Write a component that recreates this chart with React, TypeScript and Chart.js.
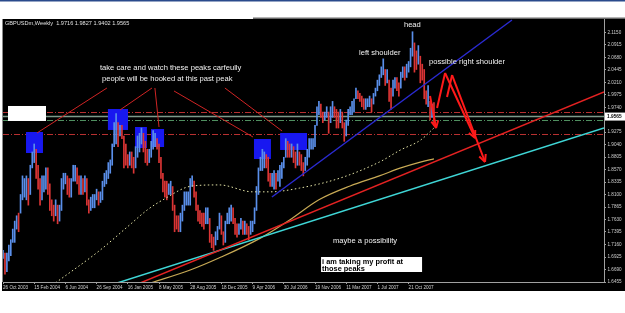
import { useEffect, useRef } from "react";
import { Chart, registerables } from "chart.js";

Chart.register(...registerables);

// ---- Weekly GBPUSD bars (week 0 = 26 Oct 2003) ----
const WEEK_LOW = [
  // 2003
  1.690, 1.660, 1.665, 1.685, 1.695, 1.720, 1.720, 1.745, 1.740, 1.775,
  // 2004
  1.800, 1.805, 1.800, 1.790, 1.810, 1.860, 1.870, 1.840, 1.820, 1.790,
  1.800, 1.815, 1.820, 1.810, 1.780, 1.770, 1.760, 1.770, 1.755, 1.760,
  1.780, 1.820, 1.830, 1.810, 1.805, 1.805, 1.835, 1.835, 1.830, 1.810,
  1.810, 1.810, 1.815, 1.790, 1.775, 1.780, 1.785, 1.785, 1.800, 1.790,
  1.795, 1.800, 1.825, 1.830, 1.840, 1.850, 1.865, 1.900, 1.905, 1.900,
  1.920, 1.915,
  // 2005
  1.860, 1.865, 1.860, 1.865, 1.860, 1.850, 1.860, 1.880, 1.890, 1.905,
  1.890, 1.870, 1.865, 1.870, 1.880, 1.895, 1.900, 1.895, 1.870, 1.840,
  1.815, 1.805, 1.800, 1.810, 1.810, 1.780, 1.740, 1.745, 1.740, 1.740,
  1.760, 1.780, 1.790, 1.790, 1.790, 1.825, 1.805, 1.780, 1.760, 1.755,
  1.750, 1.745, 1.755, 1.755, 1.720, 1.710, 1.705, 1.715, 1.725, 1.745,
  1.735, 1.715,
  // 2006
  1.720, 1.755, 1.755, 1.760, 1.755, 1.735, 1.730, 1.735, 1.745, 1.735,
  1.735, 1.735, 1.725, 1.735, 1.740, 1.755, 1.780, 1.810, 1.855, 1.855,
  1.860, 1.860, 1.835, 1.825, 1.825, 1.820, 1.820, 1.835, 1.825, 1.840,
  1.860, 1.880, 1.880, 1.880, 1.880, 1.870, 1.860, 1.865, 1.865, 1.855,
  1.845, 1.855, 1.865, 1.880, 1.895, 1.895, 1.900, 1.940, 1.960, 1.955,
  1.945, 1.950, 1.955,
  // 2007
  1.925, 1.945, 1.955, 1.955, 1.935, 1.935, 1.945, 1.935, 1.910, 1.920,
  1.940, 1.960, 1.960, 1.965, 1.990, 1.990, 1.985, 1.975, 1.970, 1.970,
  1.975, 1.975, 1.965, 1.980, 1.995, 2.005, 2.015, 2.030, 2.035, 2.015,
  2.020, 1.985, 1.970, 1.995, 2.010, 2.005, 1.995, 2.010, 2.030, 2.025,
  2.030, 2.040, 2.050, 2.070, 2.040, 2.045, 2.055, 2.020, 2.025, 1.990,
  1.980, 1.975,
  // 2008
  1.950, 1.955, 1.9402,
];
const WEEK_HIGH = [
  // 2003
  1.705, 1.700, 1.700, 1.715, 1.725, 1.745, 1.760, 1.770, 1.775, 1.810,
  // 2004
  1.845, 1.840, 1.845, 1.840, 1.865, 1.890, 1.905, 1.895, 1.865, 1.840,
  1.845, 1.845, 1.860, 1.860, 1.830, 1.800, 1.790, 1.800, 1.790, 1.790,
  1.840, 1.850, 1.850, 1.845, 1.840, 1.840, 1.865, 1.865, 1.860, 1.845,
  1.845, 1.840, 1.845, 1.840, 1.800, 1.805, 1.810, 1.810, 1.820, 1.815,
  1.815, 1.835, 1.850, 1.855, 1.870, 1.875, 1.905, 1.945, 1.962, 1.945,
  1.940, 1.940,
  // 2005
  1.920, 1.905, 1.885, 1.890, 1.890, 1.880, 1.900, 1.920, 1.925, 1.935,
  1.925, 1.910, 1.895, 1.895, 1.910, 1.930, 1.925, 1.915, 1.905, 1.880,
  1.850, 1.835, 1.835, 1.830, 1.835, 1.825, 1.790, 1.770, 1.770, 1.775,
  1.790, 1.815, 1.815, 1.815, 1.840, 1.845, 1.835, 1.815, 1.790, 1.780,
  1.775, 1.775, 1.785, 1.785, 1.765, 1.735, 1.730, 1.740, 1.750, 1.775,
  1.770, 1.740,
  // 2006
  1.760, 1.775, 1.785, 1.790, 1.785, 1.765, 1.755, 1.755, 1.765, 1.760,
  1.760, 1.755, 1.750, 1.760, 1.760, 1.785, 1.825, 1.860, 1.880, 1.895,
  1.890, 1.885, 1.880, 1.850, 1.850, 1.855, 1.850, 1.855, 1.865, 1.870,
  1.880, 1.915, 1.910, 1.905, 1.905, 1.900, 1.890, 1.905, 1.890, 1.885,
  1.870, 1.880, 1.895, 1.915, 1.915, 1.915, 1.940, 1.975, 1.985, 1.980,
  1.965, 1.965, 1.975,
  // 2007
  1.965, 1.975, 1.985, 1.975, 1.970, 1.965, 1.970, 1.965, 1.945, 1.950,
  1.970, 1.975, 1.985, 1.990, 2.010, 2.005, 2.000, 1.995, 1.990, 1.990,
  1.990, 1.995, 1.990, 2.000, 2.010, 2.025, 2.035, 2.050, 2.065, 2.045,
  2.045, 2.025, 2.010, 2.025, 2.030, 2.030, 2.020, 2.040, 2.050, 2.050,
  2.055, 2.060, 2.085, 2.116, 2.095, 2.080, 2.090, 2.070, 2.055, 2.045,
  2.005, 2.015,
  // 2008
  1.985, 1.980, 1.9827,
];

// slow moving average (solid) and fast moving average (dotted)
const SLOW_MA_WEEKS = [76, 96, 111, 132, 147, 162, 178, 193, 204, 214, 221];
const SLOW_MA_VALUES = [1.644, 1.668, 1.691, 1.728, 1.762, 1.800, 1.826, 1.845, 1.860, 1.871, 1.877];
const FAST_MA_WEEKS = [27, 50, 65, 74, 82, 97, 111, 128, 137, 152, 173, 193, 204, 214, 221];
const FAST_MA_VALUES = [1.644, 1.706, 1.753, 1.781, 1.800, 1.826, 1.828, 1.815, 1.815, 1.822, 1.841, 1.871, 1.894, 1.912, 1.935];

// trend lines [week, price] start / end
const RED_TREND = [[70.3, 1.6436], [308.2, 2.0027]];
const CYAN_TREND = [[58.5, 1.6436], [308.2, 1.9350]];
const BLUE_TREND = [[137.9, 1.8053], [261.0, 2.1381]];

// axis ticks
const X_TICK_WEEKS = [0, 16, 32, 48, 64, 80, 96, 112, 128, 144, 160, 176, 192, 208];
const X_TICK_LABELS = [
  "26 Oct 2003", "15 Feb 2004", "6 Jun 2004", "26 Sep 2004", "16 Jan 2005",
  "8 May 2005", "28 Aug 2005", "18 Dec 2005", "9 Apr 2006", "30 Jul 2006",
  "19 Nov 2006", "11 Mar 2007", "1 Jul 2007", "21 Oct 2007",
];
const Y_TICK_VALUES = [
  1.6455, 1.6690, 1.6925, 1.7160, 1.7395, 1.7630, 1.7865, 1.8100, 1.8335, 1.8570,
  1.8805, 1.9040, 1.9275, 1.9740, 1.9975, 2.0210, 2.0445, 2.0680, 2.0915, 2.1150,
];

const LAST_PRICE = 1.9565;
const HEADER = "GBPUSDm,Weekly  1.9716 1.9827 1.9402 1.9565";
const LEVELS_RED = [1.9651, 1.9237];
const LEVELS_GREEN = [1.9501];

// annotations (data coordinates: week, price)
const BOXES = [
  [11.8, 1.9275, 20.5, 1.8880],
  [53.8, 1.9707, 64.1, 1.9313],
  [67.7, 1.9369, 73.8, 1.8974],
  [75.9, 1.9331, 82.6, 1.8993],
  [128.7, 1.9143, 137.4, 1.8767],
  [142.1, 1.9256, 155.9, 1.8937],
];
const POINTERS = [
  [53.3, 2.0102, 17.4, 1.9256],
  [76.4, 2.0102, 60.0, 1.9689],
  [77.9, 2.0102, 80.0, 1.9369],
  [87.7, 2.0046, 128.2, 1.9181],
  [113.8, 2.0102, 143.1, 1.9294],
];
const ARROWS = [
  [219.0, 1.9952, 222.1, 1.9350, 1],
  [222.6, 1.9726, 226.7, 2.0384, 0],
  [226.7, 2.0384, 242.1, 1.9162, 1],
  [227.7, 1.9933, 230.3, 2.0346, 0],
  [230.3, 2.0346, 247.2, 1.8711, 1],
];
const NOTES: [string, number, number][] = [
  ["take care and watch these peaks carfeully", 49.7, 2.0478],
  ["people will be hooked at this past peak", 50.8, 2.0271],
  ["left shoulder", 182.6, 2.0760],
  ["head", 205.6, 2.1287],
  ["possible right shoulder", 218.5, 2.0591],
  ["maybe a possibility", 169.2, 1.7226],
];
const PROFIT_NOTE = ["i am taking my profit at", "those peaks"];

const BAR_UP = "#5a8fea";
const BAR_DOWN = "#dc3535";
const FONT = "'Liberation Sans', Arial, sans-serif";

function arrowHead(ctx: CanvasRenderingContext2D, x1: number, y1: number, x2: number, y2: number, size: number) {
  const a = Math.atan2(y2 - y1, x2 - x1);
  ctx.beginPath();
  ctx.moveTo(x2, y2);
  ctx.lineTo(x2 - size * Math.cos(a - 0.45), y2 - size * Math.sin(a - 0.45));
  ctx.moveTo(x2, y2);
  ctx.lineTo(x2 - size * Math.cos(a + 0.45), y2 - size * Math.sin(a + 0.45));
  ctx.stroke();
}

const decorPlugin = {
  id: "decor",
  beforeDraw(chart: any) {
    const { ctx, chartArea: ca } = chart;
    ctx.save();
    ctx.fillStyle = "#ffffff";
    ctx.fillRect(0, 0, chart.width, chart.height);
    ctx.fillStyle = "#000000";
    ctx.fillRect(2, ca.top, chart.width - 2, 291 - ca.top);
    ctx.fillStyle = "#2a4a8c";
    ctx.fillRect(0, 0, chart.width, 1.5);
    ctx.fillStyle = "#6a6a6a";
    ctx.fillRect(253, ca.top - 1.5, chart.width - 253, 1.5);
    ctx.fillStyle = "#8a8a8a";
    ctx.fillRect(2, ca.top, 1, ca.bottom - ca.top);
    ctx.restore();
  },
  beforeDatasetsDraw(chart: any) {
    const { ctx, chartArea: ca, scales } = chart;
    const X = (v: number) => scales.x.getPixelForValue(v);
    const Y = (v: number) => scales.y.getPixelForValue(v);
    ctx.save();
    ctx.beginPath();
    ctx.rect(ca.left, ca.top, ca.right - ca.left, ca.bottom - ca.top);
    ctx.clip();
    // horizontal levels
    ctx.lineWidth = 1;
    ctx.setLineDash([6, 2, 1, 2]);
    ctx.strokeStyle = "#b83030";
    LEVELS_RED.forEach((p) => {
      const y = Math.round(Y(p)) + 0.5;
      ctx.beginPath(); ctx.moveTo(ca.left, y); ctx.lineTo(ca.right, y); ctx.stroke();
    });
    ctx.strokeStyle = "#4f8f5f";
    LEVELS_GREEN.forEach((p) => {
      const y = Math.round(Y(p)) + 0.5;
      ctx.beginPath(); ctx.moveTo(ca.left, y); ctx.lineTo(ca.right, y); ctx.stroke();
    });
    ctx.setLineDash([]);
    ctx.strokeStyle = "#7e9a8a";
    ctx.lineWidth = 1.5;
    const yl = Y(LAST_PRICE);
    ctx.beginPath(); ctx.moveTo(ca.left, yl); ctx.lineTo(ca.right, yl); ctx.stroke();
    // blue boxes
    ctx.fillStyle = "#1818f0";
    BOXES.forEach(([w1, p1, w2, p2]) => {
      ctx.fillRect(X(w1), Y(p1), X(w2) - X(w1), Y(p2) - Y(p1));
    });
    ctx.restore();
  },
  afterDatasetsDraw(chart: any) {
    const { ctx, chartArea: ca, scales } = chart;
    const X = (v: number) => scales.x.getPixelForValue(v);
    const Y = (v: number) => scales.y.getPixelForValue(v);
    ctx.save();
    ctx.beginPath();
    ctx.rect(ca.left, ca.top, ca.right - ca.left, ca.bottom - ca.top);
    ctx.clip();
    // thin pointer lines
    ctx.strokeStyle = "#d02424";
    ctx.lineWidth = 1;
    POINTERS.forEach(([w1, p1, w2, p2]) => {
      ctx.beginPath(); ctx.moveTo(X(w1), Y(p1)); ctx.lineTo(X(w2), Y(p2)); ctx.stroke();
    });
    // thick arrows
    ctx.strokeStyle = "#ff1a1a";
    ctx.lineWidth = 2;
    ARROWS.forEach(([w1, p1, w2, p2, head]) => {
      const x1 = X(w1), y1 = Y(p1), x2 = X(w2), y2 = Y(p2);
      ctx.beginPath(); ctx.moveTo(x1, y1); ctx.lineTo(x2, y2); ctx.stroke();
      if (head) arrowHead(ctx, x1, y1, x2, y2, 8);
    });
    // white notes
    ctx.fillStyle = "#f2f2f2";
    ctx.font = `7.6px ${FONT}`;
    ctx.textBaseline = "middle";
    ctx.textAlign = "left";
    NOTES.forEach(([t, w, p]) => ctx.fillText(t, X(w), Y(p)));
    // profit box
    const bx1 = X(163.1), by1 = Y(1.6925), bx2 = X(214.9), by2 = Y(1.6643);
    ctx.fillStyle = "#ffffff";
    ctx.fillRect(bx1, by1, bx2 - bx1, by2 - by1);
    ctx.fillStyle = "#000000";
    ctx.font = `bold 7.4px ${FONT}`;
    ctx.fillText(PROFIT_NOTE[0], bx1 + 1, Y(1.6840));
    ctx.fillText(PROFIT_NOTE[1], bx1 + 1, Y(1.6699));
    // small white box on the left
    ctx.fillStyle = "#ffffff";
    const lx1 = X(2.56), ly1 = Y(1.9764), lx2 = X(22.05), ly2 = Y(1.9482);
    ctx.fillRect(lx1, ly1, lx2 - lx1, ly2 - ly1);
    // header
    ctx.fillStyle = "#e0e0e0";
    ctx.font = `5.6px ${FONT}`;
    ctx.fillText(HEADER, ca.left + 2, ca.top + 4.5);
    ctx.restore();
    // last price box on the axis
    const yp = Y(LAST_PRICE);
    ctx.save();
    ctx.fillStyle = "#ffffff";
    ctx.fillRect(ca.right + 1, yp - 4, chart.width - ca.right - 1, 8);
    ctx.fillStyle = "#000000";
    ctx.font = `bold 4.8px ${FONT}`;
    ctx.textBaseline = "middle";
    ctx.fillText(LAST_PRICE.toFixed(4), ca.right + 3, yp + 0.3);
    ctx.restore();
  },
};

export default function App() {
  const ref = useRef<HTMLCanvasElement>(null);
  useEffect(() => {
    document.body.style.margin = "0";
    const barColors = WEEK_HIGH.map((h, i) => {
      if (i === 0) return BAR_UP;
      const mid = (h + WEEK_LOW[i]) / 2;
      const prev = (WEEK_HIGH[i - 1] + WEEK_LOW[i - 1]) / 2;
      return mid >= prev ? BAR_UP : BAR_DOWN;
    });
    const toPts = (arr: number[][]) => arr.map(([x, y]) => ({ x, y }));
    const chart = new Chart(ref.current!, {
      type: "bar",
      data: {
        datasets: [
          {
            type: "line",
            data: toPts(RED_TREND),
            borderColor: "#e42222",
            borderWidth: 1.5,
            pointRadius: 0,
            order: 0,
          } as any,
          {
            type: "line",
            data: toPts(CYAN_TREND),
            borderColor: "#3fd6d6",
            borderWidth: 1.5,
            pointRadius: 0,
            order: 0,
          } as any,
          {
            type: "line",
            data: toPts(BLUE_TREND),
            borderColor: "#2a2ad0",
            borderWidth: 1.5,
            pointRadius: 0,
            order: 0,
          } as any,
          {
            type: "line",
            data: SLOW_MA_WEEKS.map((x, i) => ({ x, y: SLOW_MA_VALUES[i] })),
            borderColor: "#c8aa55",
            borderWidth: 1.2,
            pointRadius: 0,
            cubicInterpolationMode: "monotone",
            order: 2,
          } as any,
          {
            type: "line",
            data: FAST_MA_WEEKS.map((x, i) => ({ x, y: FAST_MA_VALUES[i] })),
            borderColor: "#e6e6a8",
            borderWidth: 1,
            borderDash: [1.5, 2.5],
            pointRadius: 0,
            cubicInterpolationMode: "monotone",
            order: 2,
          } as any,
          {
            type: "bar",
            data: WEEK_HIGH.map((h, i) => ({ x: i, y: [WEEK_LOW[i], h] })),
            backgroundColor: barColors,
            borderWidth: 0,
            barThickness: 1,
            order: 5,
          } as any,
        ],
      },
      options: {
        responsive: false,
        animation: false,
        layout: { padding: { left: 3, top: 19, right: 0, bottom: 0 } },
        plugins: { legend: { display: false }, tooltip: { enabled: false } },
        scales: {
          x: {
            type: "linear",
            min: 0,
            max: 308.2,
            offset: false,
            grid: { display: true, offset: false, drawOnChartArea: false, drawTicks: true, tickLength: 2, color: "#a0a0a0" },
            border: { display: true, color: "#a0a0a0" },
            afterBuildTicks: (s: any) => { s.ticks = X_TICK_WEEKS.map((value) => ({ value })); },
            afterFit: (s: any) => { s.height = 31; },
            ticks: {
              autoSkip: false,
              maxRotation: 0,
              minRotation: 0,
              align: "start",
              padding: 1,
              color: "#d0d0d0",
              font: { family: FONT, size: 4.6 },
              callback: (_v: any, i: number) => X_TICK_LABELS[i],
            },
          },
          y: {
            type: "linear",
            position: "right",
            min: 1.6455,
            max: 2.13994,
            beginAtZero: false,
            grid: { display: true, drawOnChartArea: false, drawTicks: true, tickLength: 2, color: "#a0a0a0" },
            border: { display: true, color: "#a0a0a0" },
            afterBuildTicks: (s: any) => { s.ticks = Y_TICK_VALUES.map((value) => ({ value })); },
            afterFit: (s: any) => { s.width = 21; },
            ticks: {
              padding: 1.5,
              color: "#d0d0d0",
              font: { family: FONT, size: 4.6 },
              callback: (v: any) => Number(v).toFixed(4),
            },
          },
        },
      } as any,
      plugins: [decorPlugin],
    });
    return () => chart.destroy();
  }, []);
  return (
    <div style={{ position: "fixed", left: 0, top: 0, width: 625, height: 313, background: "#fff" }}>
      <canvas ref={ref} width={625} height={313} style={{ display: "block", width: 625, height: 313 }} />
    </div>
  );
}
